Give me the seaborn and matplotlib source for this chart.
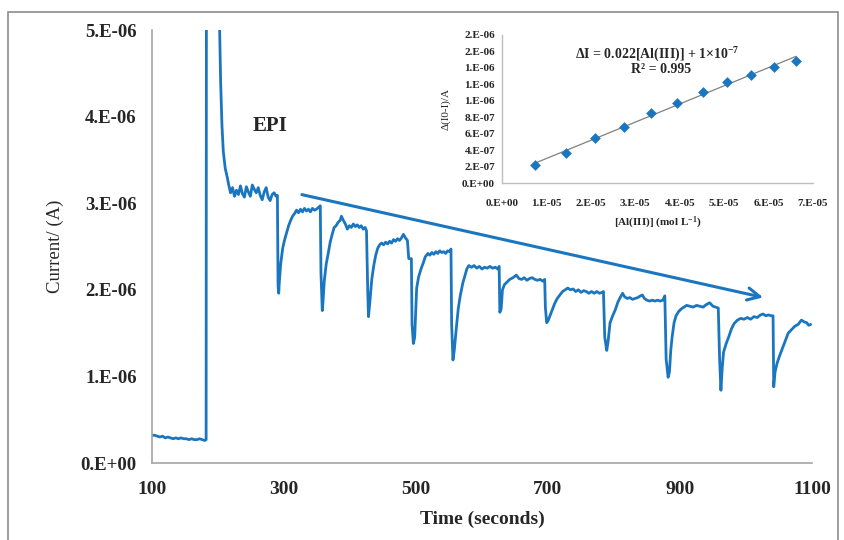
import numpy as np
import matplotlib
matplotlib.use("Agg")
import matplotlib.pyplot as plt
import seaborn as sns
from matplotlib.patches import Rectangle

# =========================
# DATA
# =========================

# amperometric trace: time (s) and current (uA)
time_s = [
    100, 104, 108, 112, 116, 120, 124, 128, 132, 136, 140, 144, 148, 152, 156, 160, 164, 168, 172, 176, 180, 182,
    183, 202, 204, 206, 208, 211, 214, 216,
    219, 222, 225, 228, 231, 234, 237, 240, 243, 246, 249, 252, 255, 258, 261, 264, 267, 270, 273, 276, 279, 282, 285, 288, 290,
    291, 292, 293, 295, 298, 301, 304, 307, 310, 313, 316, 319, 322, 325, 328, 331, 334, 337, 340, 343, 346, 349, 352, 355,
    356, 358, 359, 361, 364, 367, 370, 373, 376, 379, 382, 385, 387, 390, 393, 396, 399, 402, 405, 408, 411, 414, 417, 420, 423, 425,
    427, 428, 430, 433, 436, 439, 442, 445, 448, 451, 454, 457, 460, 463, 466, 469, 472, 475, 478, 481, 484, 487, 489, 493,
    494, 496, 498, 501, 504, 508, 511, 514, 518, 521, 524, 527, 530, 533, 536, 539, 542, 545, 548, 551, 553,
    554, 556, 558, 561, 564, 567, 571, 574, 577, 580, 584, 588, 592, 596, 600, 604, 608, 612, 616, 620, 624, 626,
    627, 629, 631, 634, 638, 642, 647, 652, 656, 660, 664, 668, 672, 676, 680, 684, 688, 692, 695,
    696, 698, 700, 703, 706, 710, 714, 718, 722, 726, 730, 734, 738, 742, 746, 750, 754, 758, 762, 766, 770, 774, 778, 782, 784,
    786, 789, 791, 794, 798, 802, 806, 810, 813, 816, 820, 824, 828, 832, 836, 840, 843, 846, 850, 854, 858, 862, 866, 870, 874, 877,
    879, 882, 884, 886, 888, 891, 894, 898, 902, 906, 910, 915, 920, 925, 930, 935, 940, 945, 950, 954, 958,
    960, 962, 964, 966, 970, 974, 978, 982, 987, 992, 997, 1002, 1007, 1012, 1017, 1022, 1026, 1030, 1034, 1038, 1041,
    1042, 1044, 1047, 1051, 1055, 1060, 1064, 1069, 1074, 1079, 1084, 1088, 1092, 1095, 1098,
]
current_uA = [
    0.32, 0.32, 0.31, 0.30, 0.31, 0.29, 0.30, 0.29, 0.28, 0.29, 0.28, 0.29, 0.28, 0.28, 0.27, 0.28, 0.27, 0.27, 0.28, 0.27, 0.26, 0.27,
    12.0, 5.2, 4.4, 3.9, 3.6, 3.4, 3.3, 3.22,
    3.12, 3.18, 3.08, 3.15, 3.10, 3.20, 3.11, 3.07, 3.19, 3.13, 3.08, 3.21, 3.16, 3.12, 3.18, 3.09, 3.04, 3.13, 3.18, 3.07, 3.03, 3.10, 3.12, 3.08, 3.09,
    2.05, 1.96, 2.10, 2.30, 2.48, 2.58, 2.66, 2.74, 2.80, 2.85, 2.88, 2.92, 2.89, 2.93, 2.90, 2.94, 2.91, 2.93, 2.90, 2.94, 2.92, 2.93, 2.95, 2.97,
    2.20, 1.76, 1.85, 2.10, 2.30, 2.42, 2.55, 2.64, 2.72, 2.74, 2.78, 2.80, 2.85, 2.80, 2.76, 2.70, 2.74, 2.72, 2.76, 2.73, 2.75, 2.72, 2.74, 2.70, 2.72, 2.68,
    1.95, 1.69, 1.85, 2.12, 2.28, 2.40, 2.48, 2.52, 2.54, 2.52, 2.55, 2.53, 2.56, 2.54, 2.58, 2.56, 2.59, 2.57, 2.60, 2.64, 2.60, 2.57, 2.36, 2.36,
    1.60, 1.38, 1.45, 2.02, 2.15, 2.25, 2.31, 2.38, 2.42, 2.40, 2.43, 2.41, 2.44, 2.42, 2.45, 2.43, 2.44, 2.42, 2.45, 2.44, 2.47,
    1.60, 1.19, 1.30, 1.55, 1.78, 1.93, 2.08, 2.16, 2.24, 2.28, 2.26, 2.28, 2.25, 2.27, 2.24, 2.26, 2.25, 2.27, 2.25, 2.26, 2.24, 2.27,
    1.74, 1.78, 2.00, 2.06, 2.09, 2.12, 2.14, 2.17, 2.13, 2.12, 2.14, 2.11, 2.13, 2.14, 2.12, 2.11, 2.12, 2.10, 2.12,
    1.80, 1.62, 1.64, 1.70, 1.76, 1.84, 1.90, 1.94, 1.98, 2.00, 2.02, 2.00, 2.01, 1.98, 2.00, 1.97, 1.99, 1.98, 1.96, 1.98, 1.96, 1.98, 1.96, 1.97, 1.98,
    1.45, 1.30, 1.40, 1.62, 1.70, 1.77, 1.86, 1.92, 1.96, 1.92, 1.90, 1.91, 1.89, 1.90, 1.91, 1.93, 1.94, 1.90, 1.88, 1.87, 1.88, 1.87, 1.88, 1.87, 1.88, 1.93,
    1.20, 0.99, 1.05, 1.30, 1.45, 1.62, 1.70, 1.75, 1.78, 1.80, 1.82, 1.81, 1.80, 1.82, 1.81, 1.80, 1.83, 1.85, 1.81, 1.80, 1.79,
    1.20, 0.84, 1.10, 1.28, 1.38, 1.46, 1.55, 1.61, 1.65, 1.67, 1.66, 1.68, 1.66, 1.69, 1.68, 1.71, 1.72, 1.70, 1.71, 1.70, 1.70,
    0.88, 1.05, 1.15, 1.24, 1.32, 1.42, 1.50, 1.54, 1.58, 1.60, 1.65, 1.63, 1.62, 1.59, 1.60,
]
assert len(time_s) == len(current_uA)

main_yticks = [0, 1e-6, 2e-6, 3e-6, 4e-6, 5e-6]
main_ylabels = ["0.E+00", "1.E-06", "2.E-06", "3.E-06", "4.E-06", "5.E-06"]
main_xticks = [100, 300, 500, 700, 900, 1100]

# calibration inset
al_conc = [0.75e-5, 1.43e-5, 2.10e-5, 2.74e-5, 3.36e-5, 3.94e-5, 4.52e-5, 5.07e-5, 5.60e-5, 6.13e-5, 6.62e-5]
delta_i = [0.22e-6, 0.37e-6, 0.55e-6, 0.68e-6, 0.85e-6, 0.98e-6, 1.11e-6, 1.23e-6, 1.32e-6, 1.41e-6, 1.49e-6]

inset_xticks = [0, 1e-5, 2e-5, 3e-5, 4e-5, 5e-5, 6e-5, 7e-5]
inset_xlabels = ["0.E+00", "1.E-05", "2.E-05", "3.E-05", "4.E-05", "5.E-05", "6.E-05", "7.E-05"]
inset_yticks = [0, 0.2e-6, 0.4e-6, 0.6e-6, 0.8e-6, 1.0e-6, 1.2e-6, 1.4e-6, 1.6e-6, 1.8e-6]
inset_ylabels = ["0.E+00", "2.E-07", "4.E-07", "6.E-07", "8.E-07",
                 "1.E-06", "1.E-06", "1.E-06", "2.E-06", "2.E-06"]

# =========================
# STYLE
# =========================

sns.set_style("white")
plt.rcParams["font.family"] = ["Liberation Serif", "DejaVu Serif"]
plt.rcParams["mathtext.default"] = "regular"

BLUE = "#1b76c0"
GREY = "#a6a6a6"

fig = plt.figure(figsize=(8.45, 5.4), dpi=100)

# outer frame of the original figure
fig.patches.append(Rectangle((8 / 845, -0.02), 830 / 845, 1.02 - 12 / 540,
                             transform=fig.transFigure, fill=False,
                             edgecolor="#8c8c8c", lw=1.2))

# =========================
# MAIN TRACE
# =========================

ax = fig.add_axes([152 / 845, 1 - 463 / 540, 660 / 845, 433 / 540])

current = np.array(current_uA) * 1e-6
sns.lineplot(x=time_s, y=current, ax=ax, color=BLUE, lw=2.0,
             estimator=None, sort=False)

ax.set_xlim(100, 1100)
ax.set_ylim(0, 5e-6)
ax.set_xticks(main_xticks)
ax.set_xticklabels([str(v) for v in main_xticks], fontsize=14, fontweight="bold")
ax.set_yticks(main_yticks)
ax.set_yticklabels(main_ylabels, fontsize=13.5, fontweight="bold")
ax.tick_params(axis="x", length=0, pad=13)
ax.tick_params(axis="y", length=0, pad=11)

for side in ["top", "right"]:
    ax.spines[side].set_visible(False)
for side in ["left", "bottom"]:
    ax.spines[side].set_color(GREY)
    ax.spines[side].set_linewidth(1.2)

ax.set_xlabel("Time (seconds)", fontsize=14, fontweight="bold", labelpad=9)
ax.set_ylabel("Current/ (A)", fontsize=13.5, labelpad=12)

ax.text(279, 3.89e-6, "EPI", fontsize=15, fontweight="bold", ha="center", va="center")

ax.annotate("", xy=(1030, 1.905e-6), xytext=(323, 3.106e-6),
            arrowprops=dict(arrowstyle="->", color=BLUE, lw=2.2, mutation_scale=22))

# =========================
# CALIBRATION INSET
# =========================

axin = fig.add_axes([502 / 845, 1 - 183.3 / 540, 311 / 845, 148.3 / 540])

sns.regplot(x=al_conc, y=delta_i, ax=axin, ci=None, marker="D", truncate=True,
            scatter_kws=dict(s=30, color=BLUE, alpha=1, zorder=3, linewidths=0),
            line_kws=dict(color="#808080", lw=0.9, zorder=2))

axin.set_xlim(0, 7e-5)
axin.set_ylim(0, 1.8e-6)
axin.set_xticks(inset_xticks)
axin.set_xticklabels(inset_xlabels, fontsize=8, fontweight="bold")
axin.set_yticks(inset_yticks)
axin.set_yticklabels(inset_ylabels, fontsize=8, fontweight="bold")
axin.tick_params(axis="x", length=0, pad=11)
axin.tick_params(axis="y", length=0, pad=5)
axin.xaxis.get_offset_text().set_visible(False)
axin.yaxis.get_offset_text().set_visible(False)

for side in ["top", "right"]:
    axin.spines[side].set_visible(False)
for side in ["left", "bottom"]:
    axin.spines[side].set_color("#bfbfbf")
    axin.spines[side].set_linewidth(1.0)

axin.set_xlabel("[Al(III)] (mol L$^{-1}$)", fontsize=8, fontweight="bold", labelpad=5)
axin.set_ylabel("Δ(I0-I)/A", fontsize=8, labelpad=8)

axin.text(0.5, 0.865, "ΔI = 0.022[Al(III)] + 1×10$^{-7}$", transform=axin.transAxes,
          fontsize=10, fontweight="bold", ha="center", va="center")
axin.text(0.51, 0.77, "R² = 0.995", transform=axin.transAxes,
          fontsize=10, fontweight="bold", ha="center", va="center")

fig.savefig("out.png", dpi=100)
